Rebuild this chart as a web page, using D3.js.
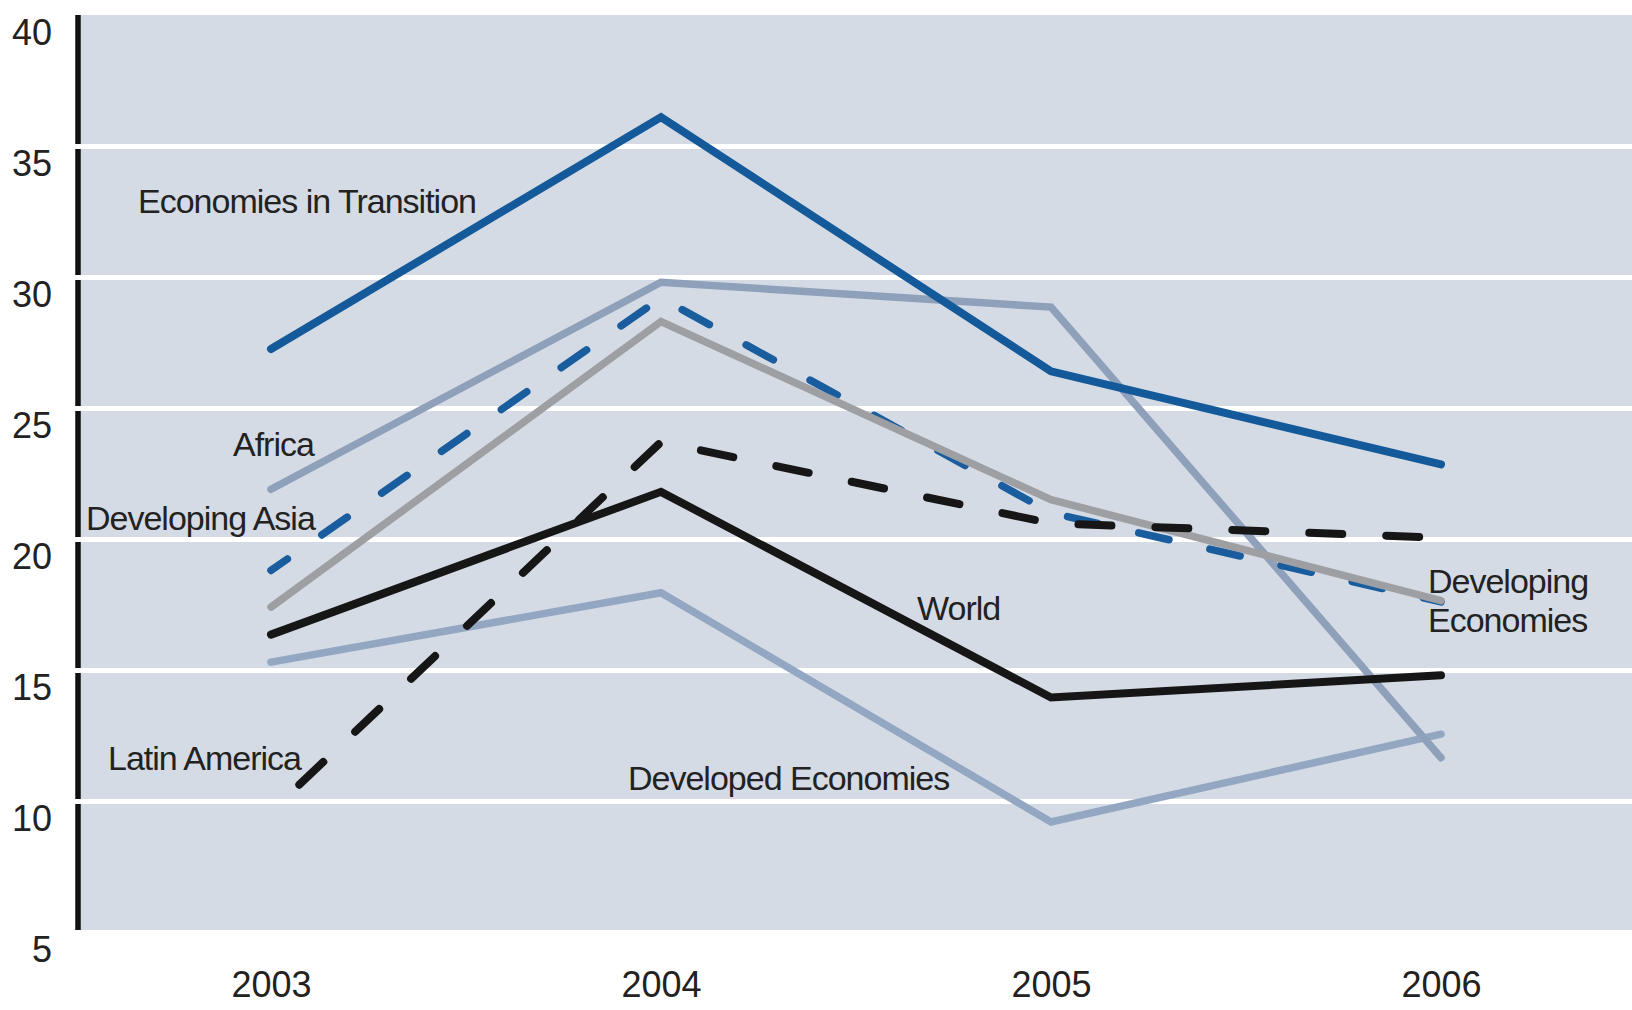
<!DOCTYPE html>
<html>
<head>
<meta charset="utf-8">
<script src="https://cdn.jsdelivr.net/npm/d3@7"></script>
<style>
  html, body { margin: 0; padding: 0; background: #ffffff; }
  svg { display: block; }
  text { font-family: "Liberation Sans", Arial, Helvetica, sans-serif; fill: #222222; }
</style>
</head>
<body>
<svg id="chart" width="1632" height="1010"></svg>
<script>
// ---- data ----
const years = [2003, 2004, 2005, 2006];
const yTicks = [5, 10, 15, 20, 25, 30, 35, 40];
const gridValues = [10, 15, 20, 25, 30, 35];

const transition = [27.25, 36.1, 26.4, 22.85];
const africa = [21.9, 29.8, 28.85, 11.65];
const developingAsia = [18.8, 29.2, 21.0, 17.6];
const developingEconomies = [17.4, 28.3, 21.5, 17.65];
const world = [16.35, 21.8, 13.95, 14.8];
const latinAmerica = [9.6, 23.7, 20.6, 20.05];
const developed = [15.3, 17.95, 9.2, 12.55];

const seriesNames = ["Economies in Transition", "Africa", "Developing Asia", "Latin America",
                     "World", "Developed Economies", "Developing Economies"];

// ---- layout ----
const W = 1632, H = 1010;
const plotLeft = 78, plotRight = 1632, plotTop = 15, plotBottom = 930;

const svg = d3.select("#chart");
const x = d3.scaleLinear().domain([2003, 2006]).range([271, 1441]);
const y = d3.scaleLinear().domain([5, 40]).range([932, 15]);

// background
svg.append("rect")
  .attr("x", plotLeft).attr("y", plotTop)
  .attr("width", plotRight - plotLeft).attr("height", plotBottom - plotTop)
  .attr("fill", "#d5dbe4");

// vertical black axis line
svg.append("line")
  .attr("x1", 78).attr("x2", 78)
  .attr("y1", plotTop).attr("y2", plotBottom)
  .attr("stroke", "#111").attr("stroke-width", 5.5);

// white gridlines
const grid = svg.append("g").attr("transform", "translate(73,0)")
  .call(d3.axisLeft(y).tickValues(gridValues).tickSize(-(plotRight - 73)).tickFormat(""));
grid.select(".domain").remove();
grid.selectAll(".tick line").attr("stroke", "#ffffff").attr("stroke-width", 5);

// y tick labels
const yAxis = svg.append("g").attr("transform", "translate(52,0)")
  .call(d3.axisLeft(y).tickValues(yTicks).tickSize(0).tickPadding(0));
yAxis.select(".domain").remove();
yAxis.selectAll(".tick text")
  .attr("x", 0).attr("dy", 29)
  .attr("text-anchor", "end")
  .style("font-size", "36px").style("fill", "#222222")
  .style("font-family", "'Liberation Sans', Arial, sans-serif");

// x tick labels
const xAxis = svg.append("g").attr("transform", "translate(0,997)")
  .call(d3.axisBottom(x).tickValues(years).tickFormat(d3.format("d")).tickSize(0).tickPadding(0));
xAxis.select(".domain").remove();
xAxis.selectAll(".tick text")
  .attr("y", 0).attr("dy", 0)
  .style("font-size", "36px").style("fill", "#222222")
  .style("font-family", "'Liberation Sans', Arial, sans-serif");

// lines
const line = d3.line().x((d, i) => x(years[i])).y(d => y(d));
const lineDefs = [
  { values: developed, color: "#93a7c3", width: 7.5, dash: null },
  { values: africa, color: "#8ea0ba", width: 7.5, dash: null },
  { values: developingAsia, color: "#1a5d9e", width: 7.5, dash: "31 42", offset: 11 },
  { values: developingEconomies, color: "#9d9fa3", width: 7.5, dash: null },
  { values: world, color: "#161616", width: 8, dash: null },
  { values: latinAmerica, color: "#161616", width: 8, dash: "33 44", offset: 38 },
  { values: transition, color: "#145a9b", width: 8, dash: null }
];
lineDefs.forEach(s => {
  const p = svg.append("path")
    .attr("d", line(s.values))
    .attr("fill", "none")
    .attr("stroke", s.color)
    .attr("stroke-width", s.width)
    .attr("stroke-linecap", "round")
    .attr("stroke-linejoin", "miter");
  if (s.dash) p.attr("stroke-dasharray", s.dash).attr("stroke-dashoffset", s.offset);
});

// labels
const labelStyle = sel => sel.style("font-size", "34px").style("letter-spacing", "-1px");
const labels = [
  { t: seriesNames[0], x: 138, y: 213 },
  { t: seriesNames[1], x: 233, y: 456 },
  { t: seriesNames[2], x: 86, y: 530 },
  { t: seriesNames[3], x: 108, y: 770 },
  { t: seriesNames[4], x: 917, y: 620 },
  { t: seriesNames[5], x: 628, y: 790 }
];
labels.forEach(l => {
  svg.append("text").attr("x", l.x).attr("y", l.y).text(l.t).call(labelStyle);
});
const de = svg.append("text").attr("x", 1428).attr("y", 593).call(labelStyle);
const deWords = seriesNames[6].split(" ");
de.append("tspan").attr("x", 1428).attr("y", 593).text(deWords[0]);
de.append("tspan").attr("x", 1428).attr("y", 632).text(deWords[1]);
</script>
</body>
</html>
